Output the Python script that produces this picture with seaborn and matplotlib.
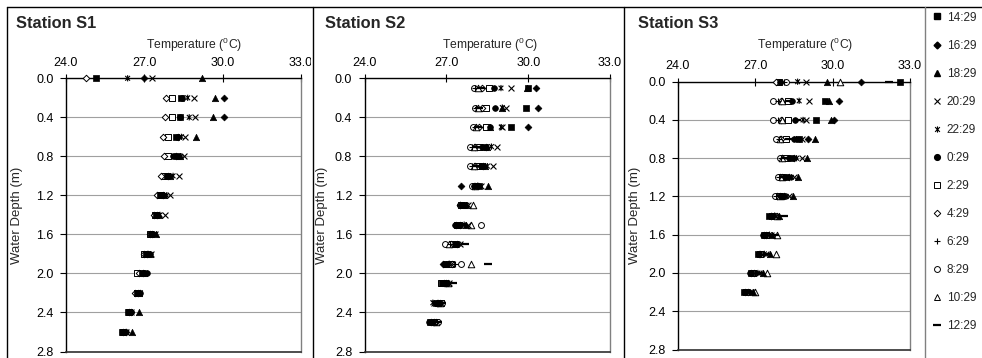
import numpy as np
import pandas as pd
import matplotlib
matplotlib.use("Agg")
import matplotlib.pyplot as plt
import seaborn as sns
from matplotlib.path import Path
from matplotlib.lines import Line2D
from matplotlib.transforms import Bbox, TransformedBbox

nan = np.nan

# ---------------- data ----------------
TIMES = ["14:29", "16:29", "18:29", "20:29", "22:29", "0:29",
         "2:29", "4:29", "6:29", "8:29", "10:29", "12:29"]
STATIONS = ["Station S1", "Station S2", "Station S3"]
X_TICKS = [24.0, 27.0, 30.0, 33.0]
Y_TICKS = [0.0, 0.4, 0.8, 1.2, 1.6, 2.0, 2.4, 2.8]

S1_DEPTH = [0.0, 0.2, 0.4, 0.6, 0.8, 1.0, 1.2, 1.4, 1.6, 1.8, 2.0, 2.2, 2.4, 2.6]
S1_1429 = [25.15, 28.40, 28.35, 28.20, 28.25, 27.85, 27.60, 27.45, 27.25, 27.05, 26.90, 26.70, 26.38, 26.16]
S1_1629 = [26.99, 30.07, 30.05, 28.30, 28.20, 27.90, 27.70, 27.50, 27.30, 27.10, 26.95, 26.75, 26.50, 26.30]
S1_1829 = [29.22, 29.71, 29.64, 28.98, 28.35, 28.00, 27.75, 27.55, 27.45, 27.20, 27.00, 26.80, 26.80, 26.52]
S1_2029 = [27.30, 28.90, 28.94, 28.56, 28.52, 28.31, 27.98, 27.79, 27.40, 27.25, 27.00, 26.80, 26.50, 26.30]
S1_2229 = [26.36, 28.66, 28.72, 28.42, 28.40, 28.10, 27.85, 27.60, 27.35, 27.15, 27.05, 26.85, 26.45, 26.30]
S1_0029 = [nan, 28.46, 28.37, 28.24, 28.10, 27.92, 27.70, 27.50, 27.30, 27.20, 27.10, 26.85, 26.50, 26.25]
S1_0229 = [nan, 28.05, 28.05, 27.92, 27.92, 27.80, 27.60, 27.40, 27.20, 27.00, 26.71, 26.70, 26.40, 26.20]
S1_0429 = [24.77, 27.82, 27.79, 27.70, 27.75, 27.64, 27.50, 27.38, 27.20, 27.00, 26.80, 26.65, 26.40, 26.20]
S1_0629 = [nan] * 14
S1_0829 = [nan] * 14
S1_1029 = [nan] * 14
S1_1229 = [nan] * 14

S2_DEPTH = [0.1, 0.3, 0.5, 0.7, 0.9, 1.1, 1.3, 1.5, 1.7, 1.9, 2.1, 2.3, 2.5]
S2_1429 = [29.99, 29.90, 29.38, 28.40, 28.30, 28.20, 27.65, 27.45, 27.35, 27.00, 26.85, 26.60, 26.40]
S2_1629 = [30.30, 30.34, 29.99, 28.45, 28.35, 27.54, 27.50, 27.35, 27.40, 26.87, 26.90, 26.65, 26.45]
S2_1829 = [29.97, 29.05, 28.60, 28.50, 28.40, 28.52, 27.70, 27.70, 27.30, 27.00, 26.95, 26.70, 26.50]
S2_2029 = [29.35, 29.20, 29.05, 28.85, 28.70, 28.25, 27.80, 27.80, 27.50, 27.15, 27.10, 26.55, 26.55]
S2_2229 = [29.00, 29.05, 29.01, 28.65, 28.50, 28.15, 27.75, 27.65, 27.45, 27.10, 27.05, 26.50, 26.50]
S2_0029 = [28.75, 28.77, 28.58, 28.30, 28.25, 28.00, 27.60, 27.30, 27.30, 26.90, 27.00, 26.75, 26.35]
S2_0229 = [28.55, 28.45, 28.46, 28.20, 28.15, 28.05, 27.55, 27.40, 27.20, 27.15, 26.80, 26.80, 26.60]
S2_0429 = [28.30, 28.30, 28.20, 28.05, 28.05, 28.00, 27.50, 27.50, 27.15, 27.20, 27.00, 26.70, 26.55]
S2_0629 = [28.05, 28.10, 28.05, 27.95, 27.95, 28.00, 27.55, 27.55, 27.12, 27.30, 27.10, 26.80, 26.65]
S2_0829 = [28.00, 28.06, 27.98, 27.85, 27.85, 27.95, 27.50, 28.27, 26.93, 27.54, 26.95, 26.85, 26.70]
S2_1029 = [28.15, 28.15, 28.10, 28.00, 28.00, 28.05, 27.98, 27.90, 27.10, 27.91, 27.05, 26.75, 26.60]
S2_1229 = [28.25, 28.20, 28.15, 28.10, 28.10, 28.10, 27.60, 27.60, 27.67, 28.52, 27.25, 26.85, 26.70]

S3_DEPTH = [0.0, 0.2, 0.4, 0.6, 0.8, 1.0, 1.2, 1.4, 1.6, 1.8, 2.0, 2.2]
S3_1429 = [32.60, 29.71, 29.35, 28.70, 28.40, 28.20, 28.05, 27.54, 27.35, 27.10, 26.85, 26.55]
S3_1629 = [31.10, 30.26, 30.06, 29.05, 28.50, 28.30, 28.10, 27.60, 27.35, 27.15, 26.85, 26.60]
S3_1829 = [29.78, 29.87, 29.93, 29.31, 29.02, 28.65, 28.45, 27.90, 27.65, 27.55, 27.30, 26.90]
S3_2029 = [28.96, 29.09, 28.96, 28.80, 28.80, 28.50, 28.30, 27.80, 27.60, 27.40, 27.15, 26.85]
S3_2229 = [28.64, 28.70, 28.85, 28.60, 28.60, 28.40, 28.20, 27.75, 27.55, 27.35, 27.10, 26.80]
S3_0029 = [27.95, 28.44, 28.55, 28.50, 28.30, 28.15, 28.00, 27.60, 27.28, 27.15, 26.80, 26.60]
S3_0229 = [27.90, 28.25, 28.25, 28.20, 28.15, 28.00, 27.90, 27.65, 27.40, 27.20, 26.90, 26.65]
S3_0429 = [27.80, 28.00, 28.00, 28.00, 28.05, 27.95, 27.85, 27.60, 27.40, 27.20, 26.95, 26.70]
S3_0629 = [28.10, 27.86, 27.86, 27.90, 28.00, 27.90, 27.80, 27.65, 27.45, 27.30, 27.00, 26.75]
S3_0829 = [28.20, 27.67, 27.67, 27.80, 27.95, 27.86, 27.77, 27.60, 27.35, 27.25, 26.95, 26.70]
S3_1029 = [30.28, 28.05, 28.05, 27.95, 28.05, 28.05, 27.95, 27.85, 27.85, 27.80, 27.45, 27.00]
S3_1229 = [32.17, 28.30, 28.60, 28.30, 28.20, 28.10, 28.00, 28.10, 27.75, 27.50, 27.20, 26.85]

S1_SERIES = [S1_1429, S1_1629, S1_1829, S1_2029, S1_2229, S1_0029,
             S1_0229, S1_0429, S1_0629, S1_0829, S1_1029, S1_1229]
S2_SERIES = [S2_1429, S2_1629, S2_1829, S2_2029, S2_2229, S2_0029,
             S2_0229, S2_0429, S2_0629, S2_0829, S2_1029, S2_1229]
S3_SERIES = [S3_1429, S3_1629, S3_1829, S3_2029, S3_2229, S3_0029,
             S3_0229, S3_0429, S3_0629, S3_0829, S3_1029, S3_1229]

# ---------------- styles ----------------
ASTER = Path([(-1, -1), (1, 1), (-1, 1), (1, -1), (0, -1.3), (0, 1.3)],
             [Path.MOVETO, Path.LINETO, Path.MOVETO, Path.LINETO, Path.MOVETO, Path.LINETO])

# marker, size(pt^2), kind, linewidth
STYLE = {
    "14:29": ("s", 15, "filled", 0.5),
    "16:29": ("D", 12, "filled", 0.5),
    "18:29": ("^", 21, "filled", 0.5),
    "20:29": ("x", 18, "line", 0.8),
    "22:29": (ASTER, 20, "path", 0.8),
    "0:29": ("o", 17, "filled", 0.5),
    "2:29": ("s", 14, "open", 0.7),
    "4:29": ("D", 11, "open", 0.7),
    "6:29": ("+", 20, "line", 0.8),
    "8:29": ("o", 18, "open", 0.7),
    "10:29": ("^", 22, "open", 0.7),
    "12:29": ("_", 26, "line", 1.6),
}

sns.set_style("white")
plt.rcParams["font.family"] = ["Liberation Sans", "DejaVu Sans"]
plt.rcParams["mathtext.fontset"] = "custom"
plt.rcParams["mathtext.rm"] = "Liberation Sans"
plt.rcParams["mathtext.it"] = "Liberation Sans:italic"

W, H = 982, 358
fig = plt.figure(figsize=(W / 100, H / 100), dpi=100)
fig.patch.set_facecolor("white")

# layout in pixels: (left, right, top, bottom), title x, ylabel right x, xlabel center x, clip x
PANELS = [
    (S1_DEPTH, S1_SERIES, (66, 301, 78.3, 351.5), 16, 23, 194, 312.7),
    (S2_DEPTH, S2_SERIES, (364.7, 610, 78.3, 351.5), 325, 328, 490, 624),
    (S3_DEPTH, S3_SERIES, (678, 910, 81.7, 349.5), 638, 641, 805, 925),
]

for i, (depths, series, (l, r, t, b), tx, ylx, xlc, clipx) in enumerate(PANELS):
    ax = fig.add_axes([l / W, 1 - b / H, (r - l) / W, (b - t) / H])
    for name, vals in zip(TIMES, series):
        m, s, kind, lw = STYLE[name]
        df = pd.DataFrame({"T": vals, "D": depths}).dropna()
        if df.empty:
            continue
        kw = dict(marker=m, s=s, linewidth=lw, clip_on=False, legend=False, ax=ax)
        if kind == "filled":
            kw.update(color="black", edgecolor="black", zorder=4)
        elif kind == "open":
            kw.update(color="white", edgecolor="black", zorder=3)
        elif kind == "line":
            kw.update(color="black", zorder=4)
        else:
            kw.update(facecolor="none", edgecolor="black", zorder=4)
        sns.scatterplot(data=df, x="T", y="D", **kw)

    ax.set_xlim(24, 33)
    ax.set_ylim(2.8, 0)
    ax.xaxis.tick_top()
    ax.xaxis.set_label_position("top")
    ax.set_xticks(X_TICKS)
    ax.set_xticklabels([f"{v:.1f}" for v in X_TICKS])
    ax.set_yticks(Y_TICKS)
    ax.set_yticklabels([f"{v:.1f}" for v in Y_TICKS])
    ax.tick_params(axis="x", which="major", direction="inout", length=6, width=0.8,
                   labelsize=9, pad=4, top=True, bottom=False, colors="black")
    ax.tick_params(axis="y", which="major", direction="out", length=4, width=0.8,
                   labelsize=9, pad=5, left=True, colors="black")
    ax.grid(False)
    ax.yaxis.grid(True, color="#a0a0a0", linewidth=0.8)
    ax.set_axisbelow(True)
    for side in ["left", "top"]:
        ax.spines[side].set_color("black")
        ax.spines[side].set_linewidth(1.0)
    ax.spines["right"].set_color("#808080")
    ax.spines["right"].set_linewidth(1.0)
    ax.spines["bottom"].set_color("#303030")
    ax.spines["bottom"].set_linewidth(1.2)

    ax.set_xlabel("Temperature ($^0$C)", fontsize=8.7)
    ax.xaxis.set_label_coords((xlc - l) / (r - l), (t - 49) / (b - t) + 1.0)
    ax.set_ylabel("Water Depth (m)", fontsize=9.5)
    ax.yaxis.set_label_coords((ylx - l) / (r - l), 0.5)

    clipbox = TransformedBbox(Bbox([[0, 0], [(clipx - 2) / W, 1]]), fig.transFigure)
    for lab in ax.get_xticklabels():
        lab.set_clip_on(True)
        lab.set_clip_box(clipbox)

    fig.text(tx / W, 1 - 24 / H, STATIONS[i], fontsize=11.8, fontweight="bold",
             ha="left", va="center")

# panel borders
def vline(x, color="black", lw=1.0):
    fig.add_artist(Line2D([x / W, x / W], [0, 1 - 7 / H], color=color, lw=lw,
                          transform=fig.transFigure))

fig.add_artist(Line2D([7 / W, 1], [1 - 7 / H, 1 - 7 / H], color="black", lw=1.0,
                      transform=fig.transFigure))
vline(7)
vline(312.7)
vline(624)
vline(925, color="#808080")

# legend
handles = []
for name in TIMES:
    m, s, kind, lw = STYLE[name]
    ms = np.sqrt(s)
    if kind == "filled":
        h = Line2D([], [], linestyle="none", marker=m, markersize=ms, color="black")
    elif kind == "open":
        h = Line2D([], [], linestyle="none", marker=m, markersize=ms,
                   markerfacecolor="white", markeredgecolor="black", markeredgewidth=lw)
    else:
        h = Line2D([], [], linestyle="none", marker=m, markersize=ms,
                   color="black", markeredgewidth=lw)
    handles.append(h)
fig.legend(handles, TIMES, loc="upper left", bbox_to_anchor=(922 / W, 1 - 1 / H),
           frameon=False, fontsize=8.5, handlelength=0.8, handletextpad=0.4,
           labelspacing=1.36, borderpad=0.4)

fig.savefig("out.png", dpi=100, facecolor="white")
